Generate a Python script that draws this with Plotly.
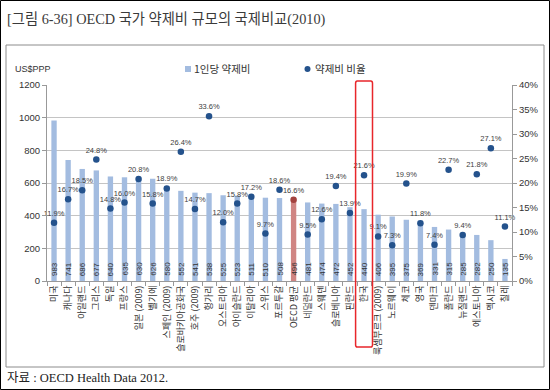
import plotly.graph_objects as go

countries = ["미국", "캐나다", "아일랜드", "그리스", "독일", "프랑스", "일본 (2009)", "벨기에",
             "스페인 (2009)", "슬로바키아공화국", "호주 (2009)", "헝가리", "오스트리아", "아이슬란드",
             "이탈리아", "스위스", "포르투갈", "OECD 평균", "네덜란드", "스웨덴", "슬로베니아", "핀란드",
             "한국", "룩셈부르크 (2009)", "노르웨이", "체코", "영국", "덴마크", "폴란드", "뉴질랜드",
             "에스토니아", "멕시코", "칠레"]
per_capita = [983, 741, 686, 677, 640, 635, 630, 626, 580, 552, 541, 538, 525, 523, 511, 510, 508,
              496, 481, 474, 472, 452, 440, 406, 395, 375, 369, 331, 315, 285, 282, 250, 135]
share = [11.9, 16.7, 18.5, 24.8, 14.8, 16.0, 20.8, 15.8, 18.9, 26.4, 14.7, 33.6, 12.0, 15.8, 17.2,
         9.7, 18.6, 16.6, 9.5, 12.6, 19.4, 13.9, 21.6, 9.1, 7.3, 19.9, 11.8, 7.4, 22.7, 9.4, 21.8,
         27.1, 11.1]
left_ticks = [0, 200, 400, 600, 800, 1000, 1200]
right_ticks = [0, 5, 10, 15, 20, 25, 30, 35, 40]
series_names = ["1인당 약제비", "약제비 비율"]

highlight_avg = "OECD 평균"
highlight_box = "한국"

BAR = "#A3BCE0"
BAR_AVG = "#D08583"
DOT = "#24528C"
DOT_AVG = "#A3423E"
FONT = "Liberation Sans, Noto Sans CJK KR, sans-serif"
KFONT = "Noto Sans CJK KR, sans-serif"

W, H = 550, 390
L, R, T, B = 47, 38, 85, 109
PW, PH = W - L - R, H - T - B

def px_x(p):
    return (p - L) / PW

def px_y(p):
    return (H - B - p) / PH

bar_colors = [BAR_AVG if c == highlight_avg else BAR for c in countries]
dot_colors = [DOT_AVG if c == highlight_avg else DOT for c in countries]

fig = go.Figure()
fig.add_trace(go.Bar(
    x=countries, y=per_capita, name=series_names[0],
    marker=dict(color=bar_colors, line=dict(width=0)),
    width=0.38, showlegend=False,
))
fig.add_trace(go.Scatter(
    x=countries, y=share, name=series_names[1], yaxis="y2", mode="markers+text",
    marker=dict(size=6.5, color=dot_colors),
    text=[f"{v:.1f}%" for v in share], textposition="top center",
    textfont=dict(size=7.5, color="#404040", family=FONT),
    cliponaxis=False, showlegend=False,
))

k = countries.index(highlight_box)
x0, x1 = k - 0.6, k + 0.6
y0, y1 = px_y(347), px_y(81)
r = 0.12
ry = 0.012
path = (f"M {x0+r},{y0} L {x1-r},{y0} Q {x1},{y0} {x1},{y0+ry} L {x1},{y1-ry} Q {x1},{y1} {x1-r},{y1} "
        f"L {x0+r},{y1} Q {x0},{y1} {x0},{y1-ry} L {x0},{y0+ry} Q {x0},{y0} {x0+r},{y0} Z")

shapes = [
    dict(type="rect", xref="paper", yref="paper", x0=px_x(0.5), x1=px_x(549.5), y0=px_y(389.5), y1=px_y(0.5),
         line=dict(color="#000000", width=1), layer="below"),
    dict(type="rect", xref="paper", yref="paper", x0=px_x(6), x1=px_x(544), y0=px_y(367), y1=px_y(45),
         line=dict(color="#8c8c8c", width=1), layer="below"),
    dict(type="path", xref="x", yref="paper", path=path, line=dict(color="#E8262B", width=1.5)),
    # legend swatches
    dict(type="rect", xref="paper", yref="paper", x0=px_x(185), x1=px_x(191), y0=px_y(72), y1=px_y(66),
         fillcolor=BAR, line=dict(width=0)),
    dict(type="circle", xref="paper", yref="paper", x0=px_x(304.5), x1=px_x(310.5), y0=px_y(72), y1=px_y(66),
         fillcolor=DOT, line=dict(width=0)),
]

annotations = [
    dict(text="[그림 6-36] OECD 국가 약제비 규모의 국제비교(2010)", xref="paper", yref="paper",
         x=px_x(5), y=px_y(20), xanchor="left", yanchor="middle", showarrow=False,
         font=dict(size=14.3, color="#3a3a3a", family="Liberation Serif, Noto Sans CJK KR, serif")),
    dict(text="자료 : OECD Health Data 2012.", xref="paper", yref="paper",
         x=px_x(5), y=px_y(378), xanchor="left", yanchor="middle", showarrow=False,
         font=dict(size=12.5, color="#222222", family="Liberation Serif, Noto Sans CJK KR, serif")),
    dict(text="US$PPP", xref="paper", yref="paper", x=px_x(13), y=px_y(69),
         xanchor="left", yanchor="middle", showarrow=False,
         font=dict(size=9, color="#333333", family=FONT)),
    dict(text=series_names[0], xref="paper", yref="paper", x=px_x(192), y=px_y(69),
         xanchor="left", yanchor="middle", showarrow=False,
         font=dict(size=10.5, color="#333333", family=KFONT)),
    dict(text=series_names[1], xref="paper", yref="paper", x=px_x(313), y=px_y(69),
         xanchor="left", yanchor="middle", showarrow=False,
         font=dict(size=10.5, color="#333333", family=KFONT)),
]
# value labels at the base of each bar
for c, v in zip(countries, per_capita):
    annotations.append(dict(text=str(v), x=c, y=0, xref="x", yref="y", textangle=-90,
                            xanchor="center", yanchor="bottom", yshift=3, showarrow=False,
                            font=dict(size=8, color="#333333", family=FONT)))

fig.update_layout(
    width=W, height=H, margin=dict(l=L, r=R, t=T, b=B, pad=0),
    paper_bgcolor="white", plot_bgcolor="white",
    font=dict(family=FONT, size=9, color="#333333"),
    showlegend=False,
    xaxis=dict(type="category", tickangle=-90, tickson="boundaries", ticks="outside", ticklen=4,
               tickcolor="#999999", showline=True, linecolor="#999999", linewidth=1,
               tickfont=dict(size=9, family=KFONT, color="#333333"), showgrid=False,
               range=[-0.5, len(countries) - 0.5]),
    yaxis=dict(range=[0, 1200], tickvals=left_ticks, ticks="outside", ticklen=4, tickcolor="#999999",
               showline=True, linecolor="#999999", gridcolor="#C4C4C4", gridwidth=1,
               tickfont=dict(size=9.5, color="#333333"), zeroline=False),
    yaxis2=dict(range=[0, 40], tickvals=right_ticks, ticktext=[f"{v}%" for v in right_ticks],
                overlaying="y", side="right", ticks="outside", ticklen=4, tickcolor="#999999",
                showline=True, linecolor="#999999", showgrid=False, zeroline=False,
                tickfont=dict(size=9.5, color="#333333")),
    shapes=shapes, annotations=annotations,
)

fig.write_html("out.html", config={"displayModeBar": False},
               post_script="document.body.style.margin='0';")
